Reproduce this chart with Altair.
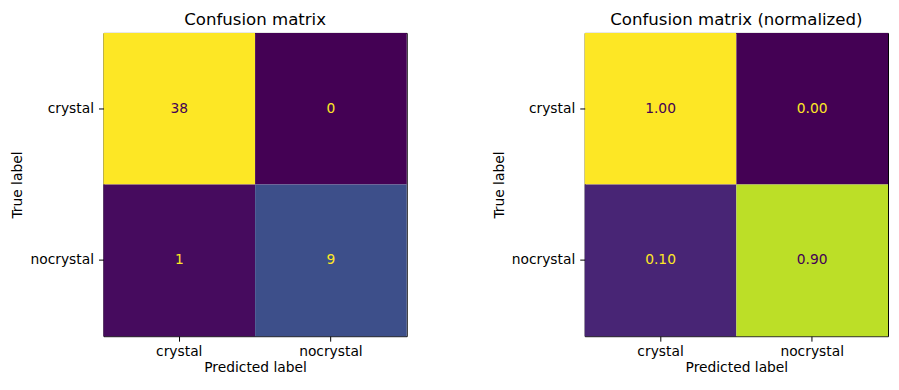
import altair as alt
import pandas as pd

classes = ["crystal", "nocrystal"]
counts = [[38, 0], [1, 9]]
normalized = [[1.00, 0.00], [0.10, 0.90]]

FONT = "DejaVu Sans"


def to_df(matrix):
    rows = []
    for i, t in enumerate(classes):
        for j, p in enumerate(classes):
            rows.append({"true": t, "pred": p, "value": matrix[i][j]})
    return pd.DataFrame(rows)


def panel(matrix, title, fmt):
    df = to_df(matrix)
    vmin = float(df["value"].min())
    vmax = float(df["value"].max())
    thr = (vmin + vmax) / 2.0
    base = alt.Chart(df).encode(
        x=alt.X("pred:N", sort=classes, title="Predicted label",
                axis=alt.Axis(labelAngle=0, domain=False, tickSize=5, tickColor="black",
                              labelPadding=3, titlePadding=3)),
        y=alt.Y("true:N", sort=classes, title="True label",
                axis=alt.Axis(domain=False, tickSize=5, tickColor="black",
                              labelPadding=5, titlePadding=5)),
    )
    rect = base.mark_rect(strokeWidth=0).encode(
        color=alt.Color("value:Q", scale=alt.Scale(scheme="viridis", domain=[vmin, vmax]), legend=None)
    )
    text = base.mark_text(font=FONT, fontSize=13.9).encode(
        text=alt.Text("value:Q", format=fmt),
        color=alt.condition(f"datum.value < {thr}", alt.value("#fde725"), alt.value("#440154")),
    )
    return alt.layer(rect, text).resolve_scale(color="independent").properties(
        width=305, height=305,
        title=alt.TitleParams(title, fontSize=16.7, font=FONT, fontWeight="normal",
                              color="black", offset=4, anchor="middle"),
    )


chart = alt.hconcat(
    panel(counts, "Confusion matrix", "d"),
    panel(normalized, "Confusion matrix (normalized)", ".2f"),
    spacing=84,
).resolve_scale(
    color="independent"
).properties(
    padding={"left": 2, "top": 2, "right": 2, "bottom": 2}
).configure(
    background="white"
).configure_view(
    stroke="black", strokeWidth=1
).configure_axis(
    labelFont=FONT, titleFont=FONT, labelFontSize=13.9, titleFontSize=13.9,
    labelColor="black", titleColor="black", titleFontWeight="normal", grid=False
)

chart.save("out.html", embed_options={"renderer": "svg", "actions": False})
